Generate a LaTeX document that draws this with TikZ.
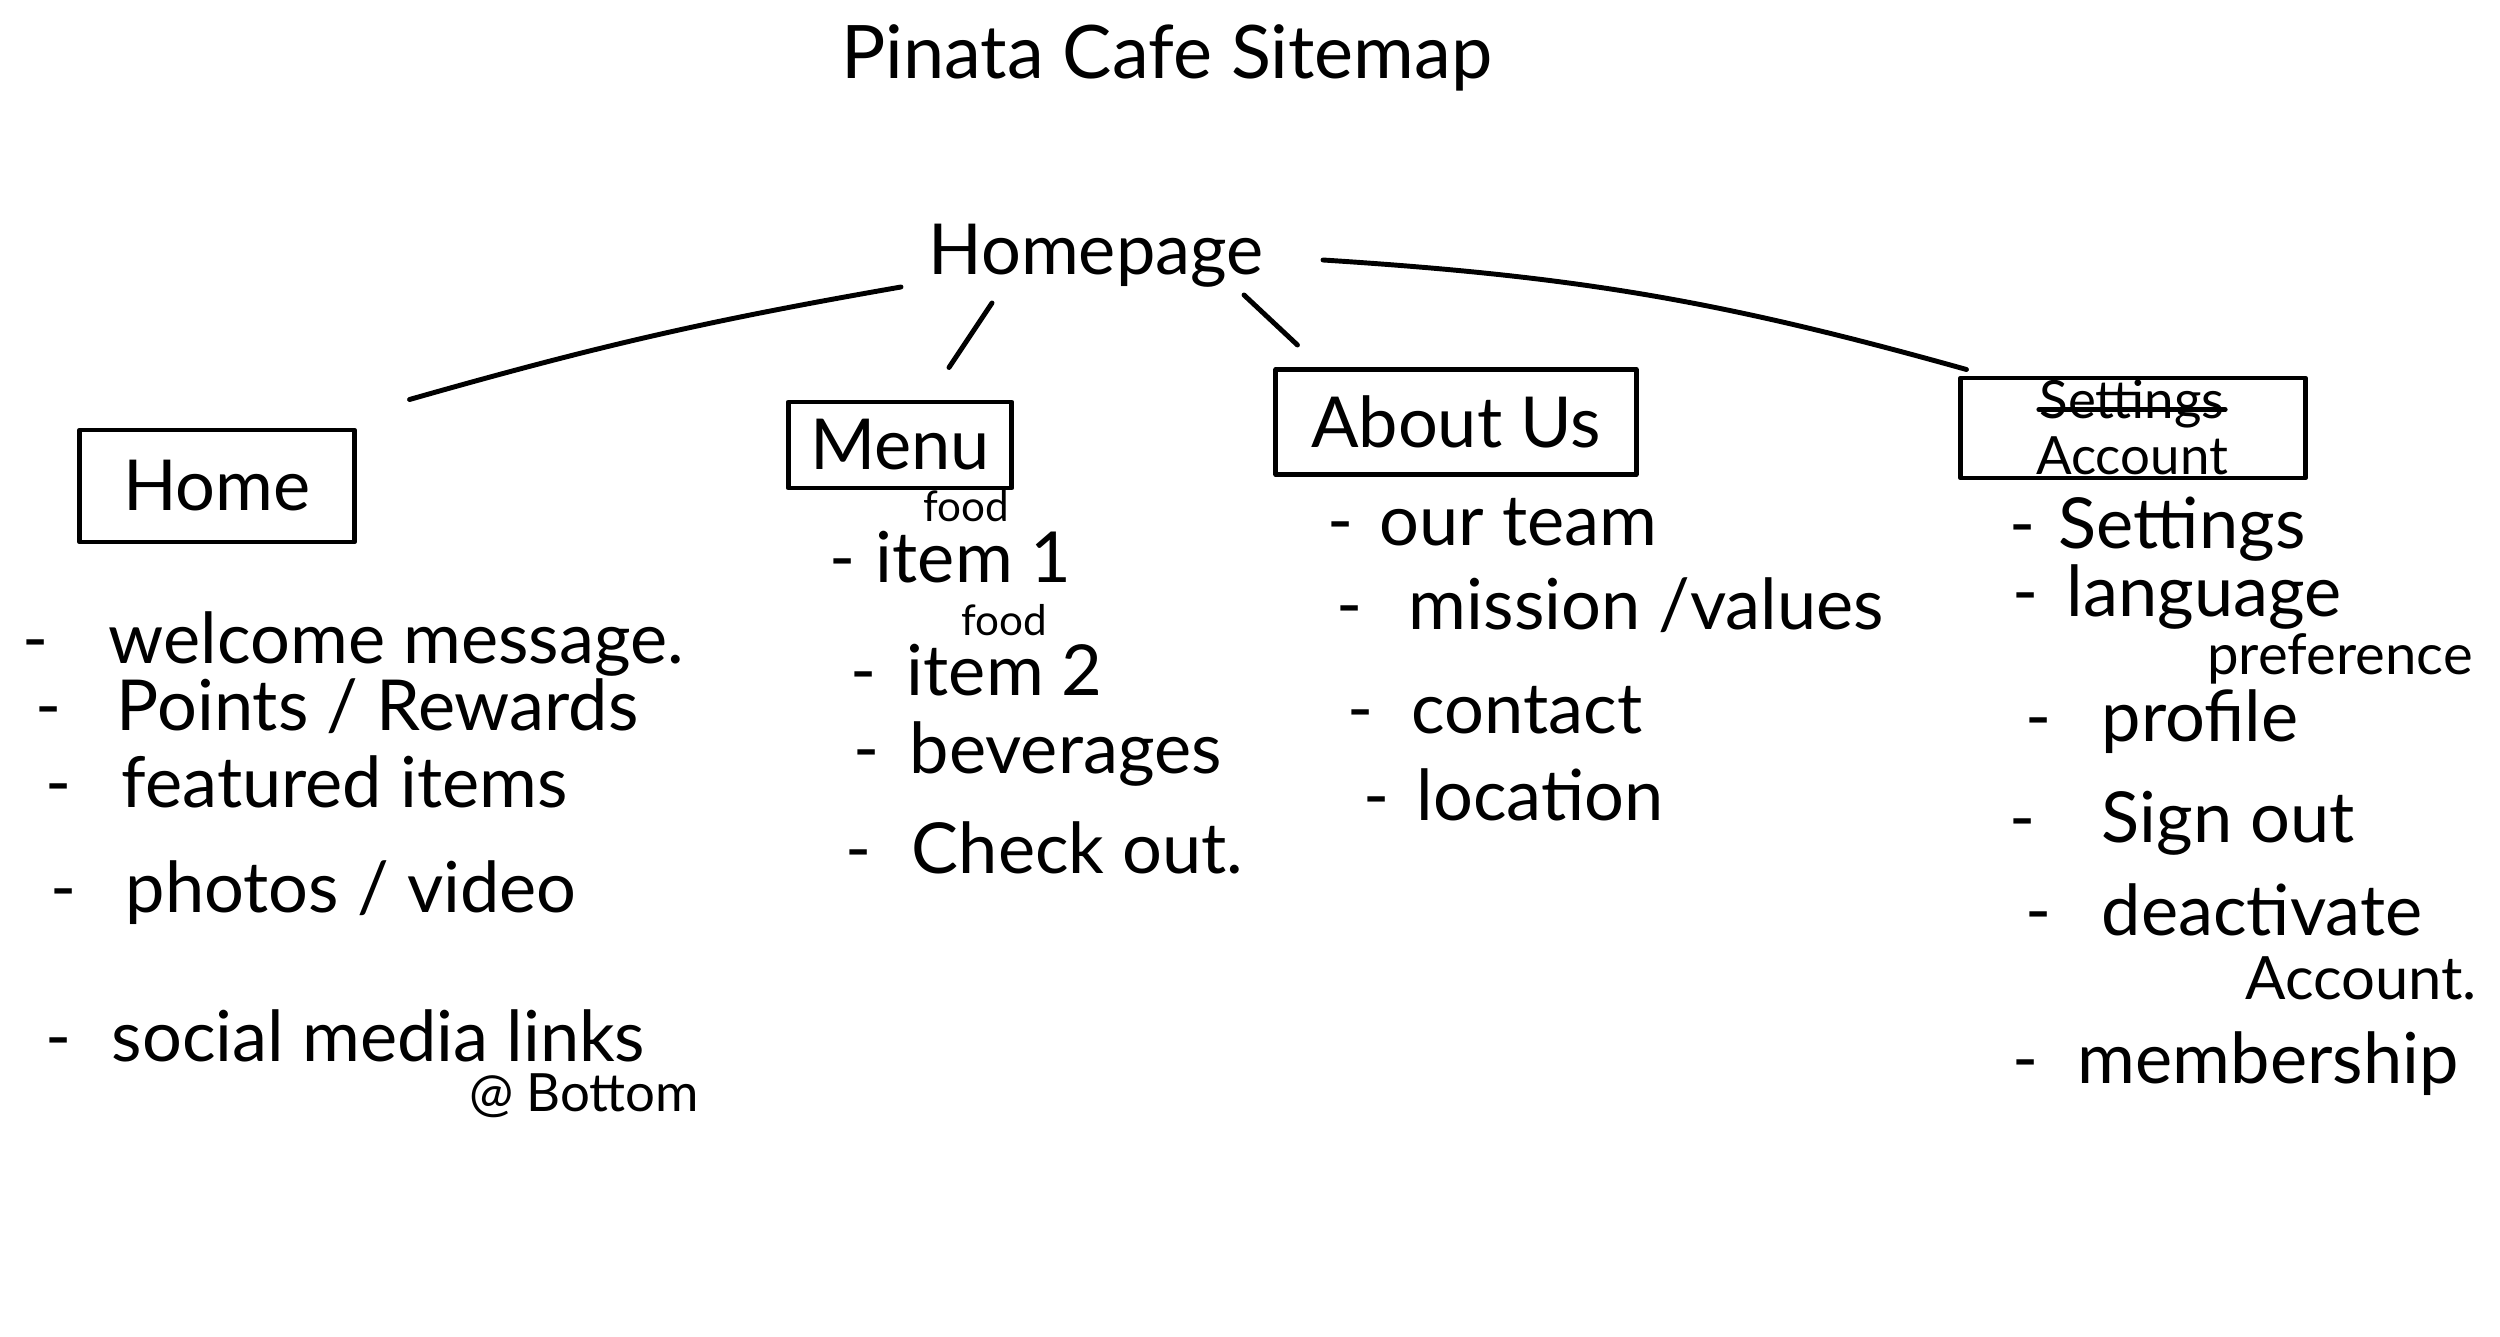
\documentclass[tikz,border=0pt]{standalone}
\usepackage{fontspec}
\setmainfont{Lato}
\usetikzlibrary{calc}
\tikzset{
  ink/.style={line width=1.4pt, line cap=round, line join=round},
  pagebox/.style={draw, ink, inner sep=0pt, font=\fontsize{20}{24}\selectfont},
  itemtxt/.style={anchor=west, inner sep=0pt, font=\fontsize{20}{24}\selectfont},
  smalltxt/.style={inner sep=0pt, font=\fontsize{12}{15}\selectfont},
  midtxt/.style={inner sep=0pt, font=\fontsize{16}{19}\selectfont},
  bigtxt/.style={inner sep=0pt, font=\fontsize{21}{25}\selectfont}
}
\begin{document}
\begin{tikzpicture}[x=0.01cm,y=-0.01cm]
\fill[white] (0,0) rectangle (2500,1337);
\useasboundingbox (0,0) rectangle (2500,1337);

% title and root
\node[bigtxt] (title) at (1167,58) {Pinata Cafe Sitemap};
\node[bigtxt, font=\fontsize{20}{24}\selectfont] (hp) at (1096,256) {Homepage};

% section boxes
\node[pagebox, minimum width=27.4mm, minimum height=11.2mm] (home) at (217,486) {Home};
\node[pagebox, minimum width=22.3mm, minimum height=8.6mm] (menu) at (900,445) {Menu};
\node[pagebox, minimum width=36mm, minimum height=10.5mm] (about) at (1456,422) {About Us};
\node[pagebox, minimum width=34.4mm, minimum height=10mm] (acct) at (2133,428) {};
\node[smalltxt, font=\fontsize{15}{18}\selectfont] (st) at (2132,404) {Settings};
\node[smalltxt, font=\fontsize{15}{18}\selectfont] (ac) at (2132,456) {Account};
\draw[ink] (st.mid west) -- (st.mid east);

% connectors
\draw[ink] ($(hp.center)+(-195,31)$) to[bend right=3] ($(home.north east)+(53,-28)$);
\draw[ink] ($(hp.center)+(-104,47)$) -- ($(menu.north)+(49,-32)$);
\draw[ink] ($(hp.center)+(148,39)$) -- ($(about.north west)+(24,-22)$);
\draw[ink] ($(hp.center)+(227,4)$) to[bend left=6] ($(acct.north west)+(8,-6)$);

% Home list
\node[itemtxt] (h1) at (22,644) {-\hspace{6mm}welcome message.};
\node[itemtxt] (h2) at (35,706) {-\hspace{5.5mm}Points / Rewards};
\node[itemtxt] (h3) at (45,782) {-\hspace{5mm}featured items};
\node[itemtxt] (h4) at (50,893) {-\hspace{4.9mm}photos / video};
\node[itemtxt] (h5) at (45,1036) {-\hspace{4mm}social media links};
\node[smalltxt, font=\fontsize{15}{18}\selectfont] (h6) at (584,1096) {@ Bottom};

% Menu list
\node[smalltxt] (f1) at (966,506) {food};
\node[itemtxt] (m1) at (829,557) {-\hspace{2mm}item 1};
\node[smalltxt] (f2) at (1004,620) {food};
\node[itemtxt] (m2) at (850,670) {-\hspace{3mm}item 2};
\node[itemtxt] (m3) at (853,754) {-\hspace{3mm}beverages};
\node[itemtxt] (m4) at (845,848) {-\hspace{4mm}Check out.};

% About Us list
\node[itemtxt] (a1) at (1327,522) {-\hspace{2.6mm}our team};
\node[itemtxt] (a2) at (1336,605) {-\hspace{4.6mm}mission /values};
\node[itemtxt] (a3) at (1347,710) {-\hspace{3.8mm}contact};
\node[itemtxt] (a4) at (1363,795) {-\hspace{2.7mm}location};

% Account list
\node[itemtxt] (s1) at (2009,529) {-\hspace{2.3mm}Settings};
\node[itemtxt] (s2) at (2012,597) {-\hspace{2.8mm}language};
\node[midtxt] (s2b) at (2340,659) {preference};
\node[itemtxt] (s3) at (2025,722) {-\hspace{5mm}profile};
\node[itemtxt] (s4) at (2009,823) {-\hspace{6.6mm}Sign out};
\node[itemtxt] (s5) at (2025,910) {-\hspace{5mm}deactivate};
\node[midtxt, font=\fontsize{17}{20}\selectfont] (s5b) at (2361,978) {Account.};
\node[itemtxt] (s6) at (2012,1064) {-\hspace{3.9mm}membership};
\end{tikzpicture}
\end{document}
